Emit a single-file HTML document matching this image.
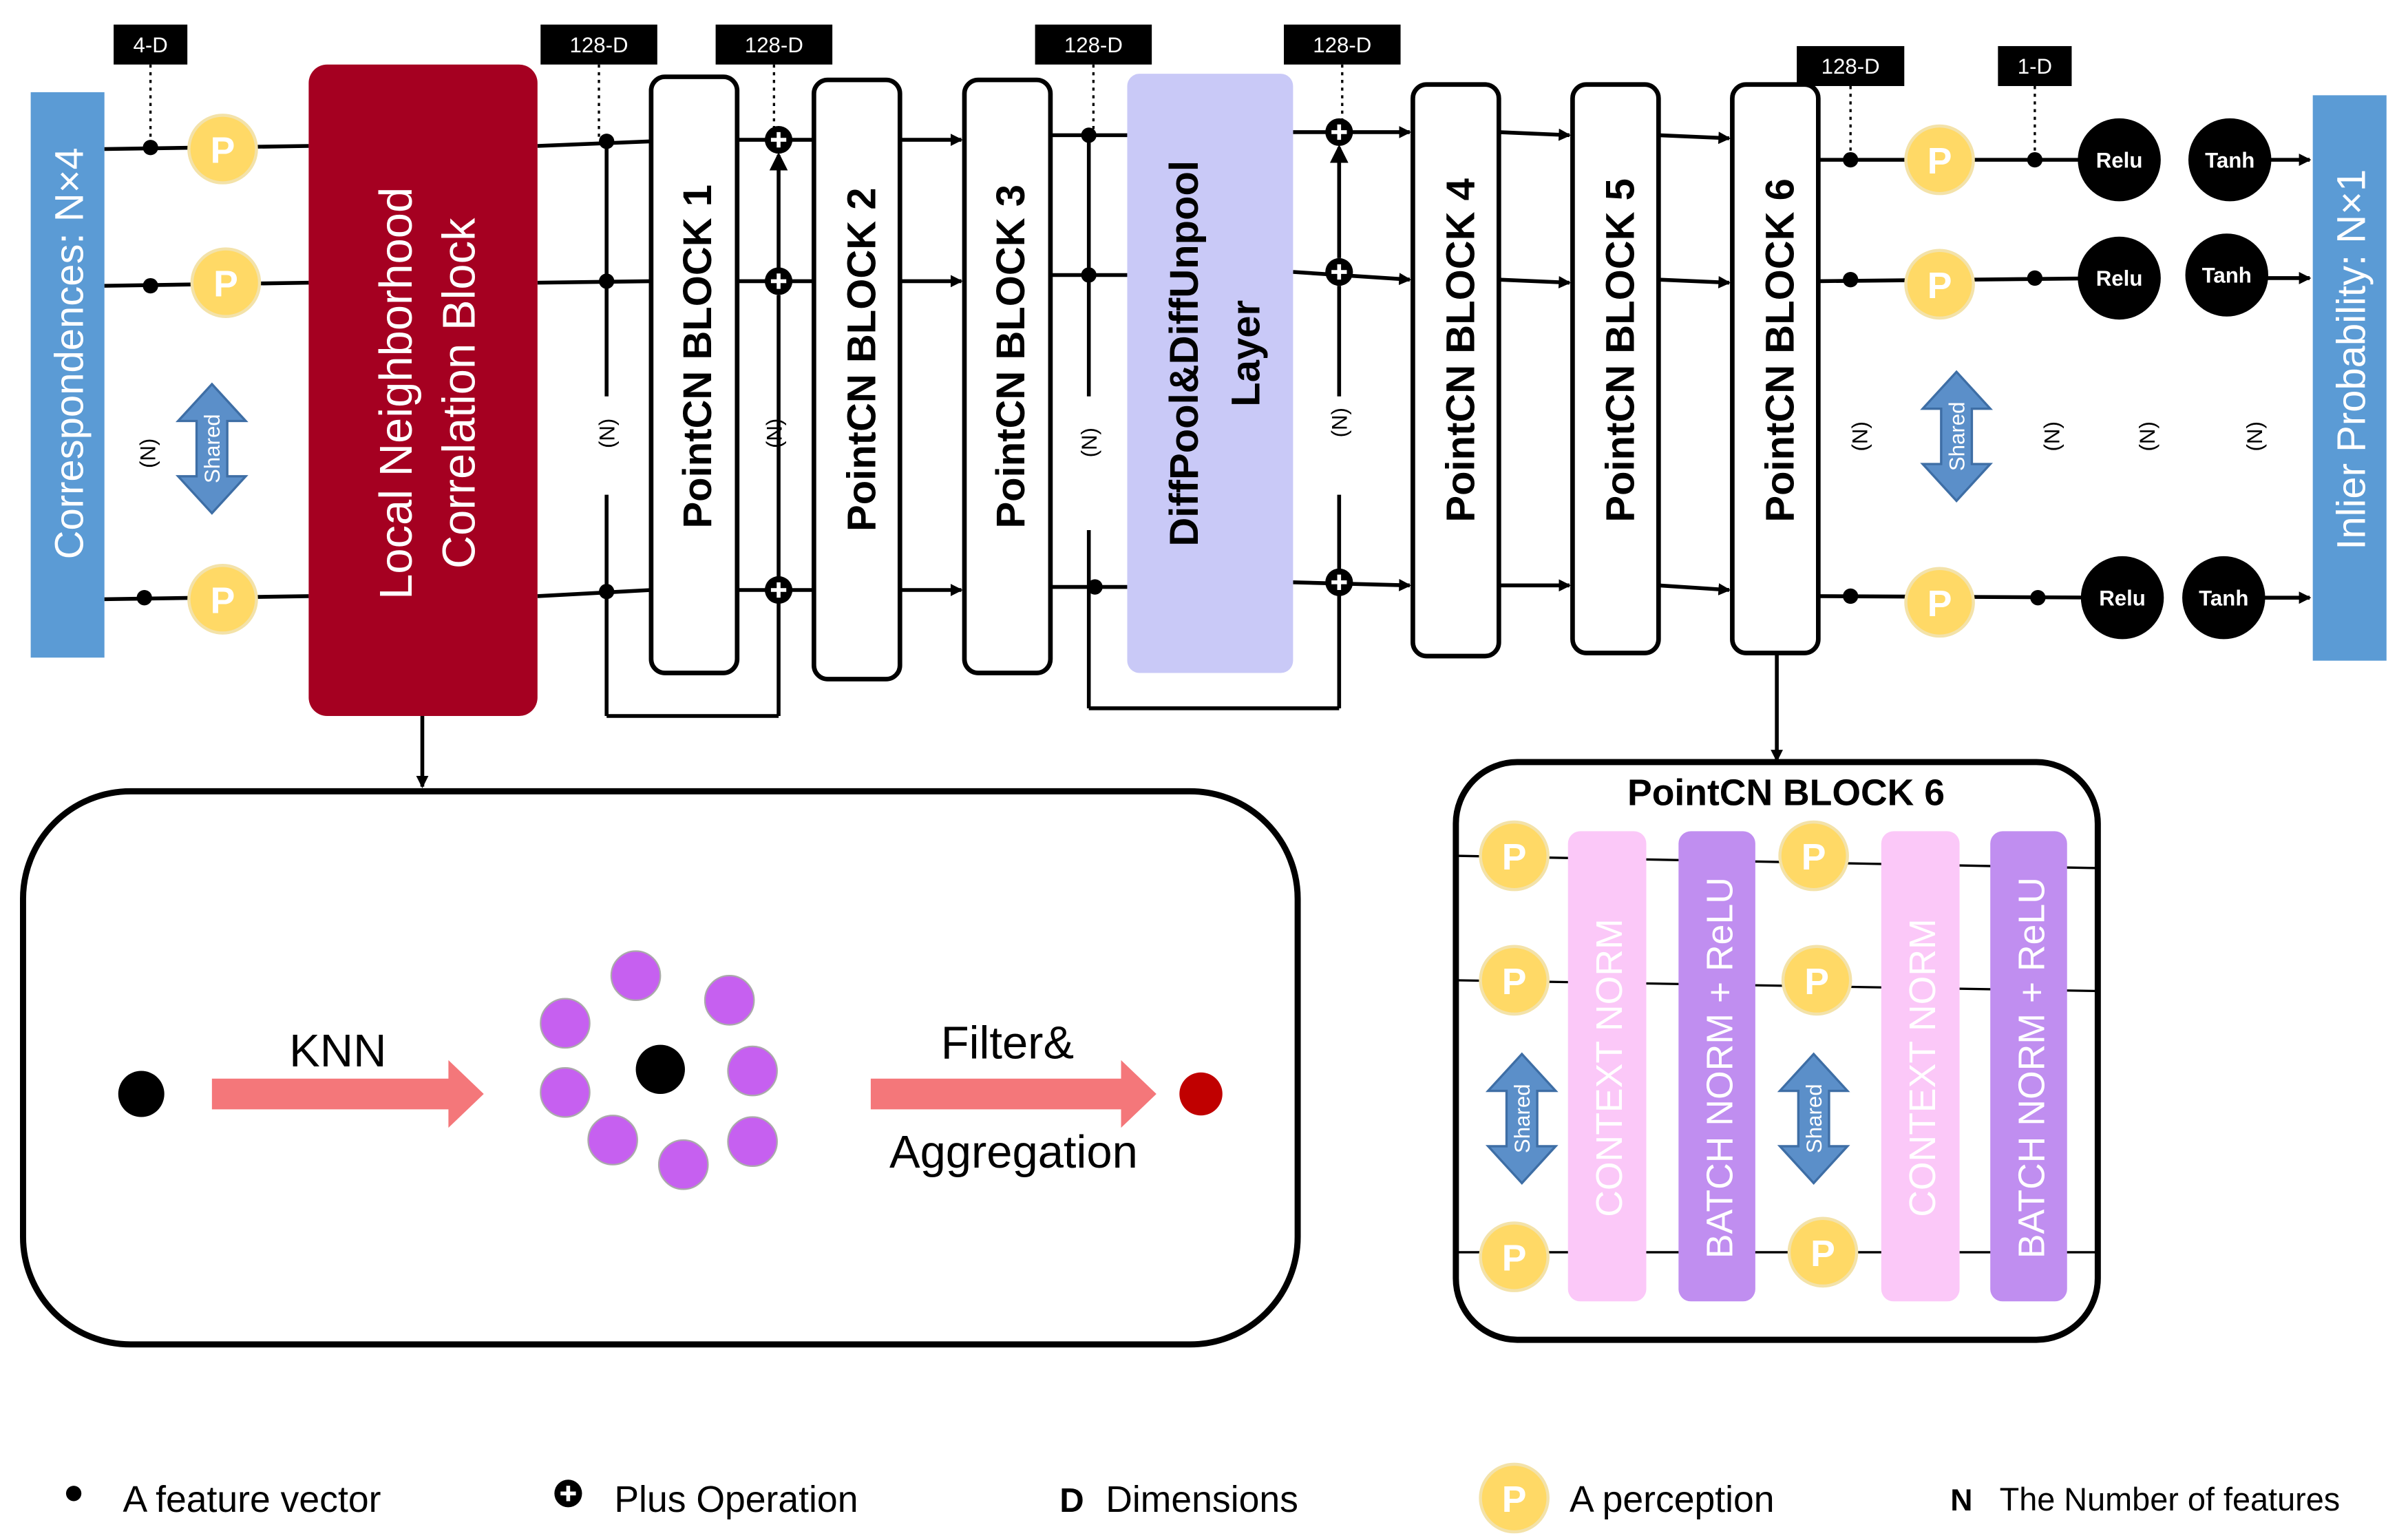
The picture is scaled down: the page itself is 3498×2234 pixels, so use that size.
<!DOCTYPE html>
<html><head><meta charset="utf-8"><style>
html,body{margin:0;padding:0;background:#fff;}
svg{display:block;}
text{font-family:"Liberation Sans","DejaVu Sans",sans-serif;}
</style></head><body>
<svg width="3498" height="2234" viewBox="0 0 1568 1001" preserveAspectRatio="none" xmlns="http://www.w3.org/2000/svg">
<defs>
<marker id="ar" markerWidth="8" markerHeight="8" refX="7" refY="4" orient="auto" markerUnits="userSpaceOnUse"><path d="M0,0 L8,4 L0,8 z" fill="#000"/></marker>
<marker id="ar2" markerWidth="12" markerHeight="12" refX="10" refY="6" orient="auto" markerUnits="userSpaceOnUse"><path d="M0,0 L12,6 L0,12 z" fill="#000"/></marker>
<g id="P"><circle r="22" fill="#ffd966" stroke="#f3e2a9" stroke-width="2"/><text y="9" text-anchor="middle" font-size="24" font-weight="bold" fill="#fff">P</text></g>
<g id="plus"><circle r="9" fill="#000"/><path d="M-5,0H5M0,-5V5" stroke="#fff" stroke-width="2.5"/></g>
<g id="shared"><path d="M0,-42 L22,-18 L10,-18 L10,18 L22,18 L0,42 L-22,18 L-10,18 L-10,-18 L-22,-18 z" fill="#5b8fc9" stroke="#3e6ea5" stroke-width="1.5"/><text transform="rotate(-90)" y="5" text-anchor="middle" font-size="14" fill="#fff">Shared</text></g>
</defs>
<rect width="1568" height="1001" fill="#fff"/>

<rect x="20" y="60" width="48" height="368" fill="#5b9bd5"/>
<text transform="translate(54,230) rotate(-90)" text-anchor="middle" font-size="26" fill="#fff">Correspondences: N×4</text>
<rect x="1506" y="62" width="48" height="368" fill="#5b9bd5"/>
<text transform="translate(1540,234) rotate(-90)" text-anchor="middle" font-size="26" fill="#fff">Inlier Probability: N×1</text>

<g font-size="14" fill="#fff" text-anchor="middle">
<rect x="74" y="16" width="48" height="26" fill="#000"/><text x="98" y="34">4-D</text>
<rect x="352" y="16" width="76" height="26" fill="#000"/><text x="390" y="34">128-D</text>
<rect x="466" y="16" width="76" height="26" fill="#000"/><text x="504" y="34">128-D</text>
<rect x="674" y="16" width="76" height="26" fill="#000"/><text x="712" y="34">128-D</text>
<rect x="836" y="16" width="76" height="26" fill="#000"/><text x="874" y="34">128-D</text>
<rect x="1170" y="30" width="70" height="26" fill="#000"/><text x="1205" y="48">128-D</text>
<rect x="1301" y="30" width="48" height="26" fill="#000"/><text x="1325" y="48">1-D</text>
</g>
<g stroke="#000" stroke-width="1.5" stroke-dasharray="2,3">
<line x1="98" y1="42" x2="98" y2="95"/><line x1="390" y1="42" x2="390" y2="90"/><line x1="504" y1="42" x2="504" y2="88"/>
<line x1="712" y1="42" x2="712" y2="86"/><line x1="874" y1="42" x2="874" y2="82"/><line x1="1205" y1="56" x2="1205" y2="102"/><line x1="1325" y1="56" x2="1325" y2="102"/>
</g>

<g stroke="#000" stroke-width="2.5" fill="none">
<line x1="68" y1="97" x2="201" y2="95"/><line x1="68" y1="186" x2="201" y2="184"/><line x1="68" y1="390" x2="201" y2="388"/>
<line x1="350" y1="95" x2="424" y2="92"/><line x1="350" y1="184" x2="424" y2="183"/><line x1="350" y1="388" x2="424" y2="384"/>
<line x1="480" y1="91" x2="530" y2="91"/><line x1="480" y1="183" x2="530" y2="183"/><line x1="480" y1="384" x2="530" y2="384"/>
<line x1="395" y1="90" x2="395" y2="258"/><line x1="395" y1="322" x2="395" y2="466"/><line x1="395" y1="466" x2="507" y2="466"/><line x1="507" y1="466" x2="507" y2="192"/>
<line x1="507" y1="175" x2="507" y2="101" marker-end="url(#ar2)"/>
<line x1="586" y1="91" x2="626" y2="91" marker-end="url(#ar)"/><line x1="586" y1="183" x2="626" y2="183" marker-end="url(#ar)"/><line x1="586" y1="384" x2="626" y2="384" marker-end="url(#ar)"/>
<line x1="684" y1="88" x2="734" y2="88"/><line x1="684" y1="179" x2="734" y2="179"/><line x1="684" y1="382" x2="734" y2="382"/>
<line x1="709" y1="86" x2="709" y2="258"/><line x1="709" y1="345" x2="709" y2="461"/><line x1="709" y1="461" x2="872" y2="461"/><line x1="872" y1="461" x2="872" y2="322"/><line x1="872" y1="258" x2="872" y2="186"/>
<line x1="872" y1="168" x2="872" y2="96" marker-end="url(#ar2)"/>
<line x1="842" y1="86" x2="918" y2="86" marker-end="url(#ar)"/><line x1="842" y1="177" x2="918" y2="182" marker-end="url(#ar)"/><line x1="842" y1="379" x2="918" y2="381" marker-end="url(#ar)"/>
<line x1="976" y1="86" x2="1022" y2="88" marker-end="url(#ar)"/><line x1="976" y1="182" x2="1022" y2="184" marker-end="url(#ar)"/><line x1="976" y1="381" x2="1022" y2="381" marker-end="url(#ar)"/>
<line x1="1080" y1="88" x2="1126" y2="90" marker-end="url(#ar)"/><line x1="1080" y1="182" x2="1126" y2="184" marker-end="url(#ar)"/><line x1="1080" y1="381" x2="1126" y2="384" marker-end="url(#ar)"/>
<line x1="1184" y1="104" x2="1380" y2="104"/><line x1="1184" y1="183" x2="1380" y2="181"/><line x1="1184" y1="388" x2="1380" y2="389"/>
<line x1="1452" y1="104" x2="1504" y2="104" marker-end="url(#ar)"/><line x1="1452" y1="181" x2="1504" y2="181" marker-end="url(#ar)"/><line x1="1448" y1="389" x2="1504" y2="389" marker-end="url(#ar)"/>
<line x1="1157" y1="424" x2="1157" y2="495" marker-end="url(#ar)"/><line x1="275" y1="466" x2="275" y2="512" marker-end="url(#ar)"/>
</g>
<g fill="#000">
<circle cx="98" cy="96" r="5"/><circle cx="98" cy="186" r="5"/><circle cx="94" cy="389" r="5"/>
<circle cx="395" cy="92" r="5"/><circle cx="395" cy="183" r="5"/><circle cx="395" cy="385" r="5"/>
<circle cx="709" cy="88" r="5"/><circle cx="709" cy="179" r="5"/><circle cx="713" cy="382" r="5"/>
<circle cx="1205" cy="104" r="5"/><circle cx="1325" cy="104" r="5"/><circle cx="1205" cy="182" r="5"/><circle cx="1325" cy="181" r="5"/><circle cx="1205" cy="388" r="5"/><circle cx="1327" cy="389" r="5"/>
</g>
<use href="#plus" x="507" y="91"/><use href="#plus" x="507" y="183"/><use href="#plus" x="507" y="384"/>
<use href="#plus" x="872" y="86"/><use href="#plus" x="872" y="177"/><use href="#plus" x="872" y="379"/>

<use href="#P" x="145" y="97"/><use href="#P" x="147" y="184"/><use href="#P" x="145" y="390"/>
<use href="#P" x="1263" y="104"/><use href="#P" x="1263" y="185"/><use href="#P" x="1263" y="392"/>
<use href="#shared" x="138" y="292"/><use href="#shared" x="1274" y="284"/>

<g font-size="14" fill="#000" text-anchor="middle">
<text transform="translate(101,295) rotate(-90)">(N)</text><text transform="translate(400,282) rotate(-90)">(N)</text><text transform="translate(509,282) rotate(-90)">(N)</text>
<text transform="translate(714,288) rotate(-90)">(N)</text><text transform="translate(877,275) rotate(-90)">(N)</text><text transform="translate(1216,284) rotate(-90)">(N)</text>
<text transform="translate(1341,284) rotate(-90)">(N)</text><text transform="translate(1403,284) rotate(-90)">(N)</text><text transform="translate(1473,284) rotate(-90)">(N)</text>
</g>

<rect x="201" y="42" width="149" height="424" rx="12" fill="#a50021"/>
<text transform="translate(268,256) rotate(-90)" text-anchor="middle" font-size="30" fill="#fff">Local  Neighborhood</text>
<text transform="translate(309,256) rotate(-90)" text-anchor="middle" font-size="30" fill="#fff">Correlation  Block</text>

<g fill="#fff" stroke="#000" stroke-width="3">
<rect x="424" y="50" width="56" height="388" rx="9"/><rect x="530" y="52" width="56" height="390" rx="9"/><rect x="628" y="52" width="56" height="386" rx="9"/>
<rect x="920" y="55" width="56" height="372" rx="9"/><rect x="1024" y="55" width="56" height="370" rx="9"/><rect x="1128" y="55" width="56" height="370" rx="9"/>
</g>
<rect x="734" y="48" width="108" height="390" rx="8" fill="#c9c9f7"/>
<g font-size="26" font-weight="bold" fill="#000" text-anchor="middle">
<text transform="translate(463,232) rotate(-90)">PointCN BLOCK 1</text>
<text transform="translate(570,234) rotate(-90)">PointCN BLOCK 2</text>
<text transform="translate(667,232) rotate(-90)">PointCN BLOCK 3</text>
<text transform="translate(780,230) rotate(-90)">DiffPool&amp;DiffUnpool</text>
<text transform="translate(820,230) rotate(-90)">Layer</text>
<text transform="translate(960,228) rotate(-90)">PointCN  BLOCK 4</text>
<text transform="translate(1064,228) rotate(-90)">PointCN BLOCK 5</text>
<text transform="translate(1168,228) rotate(-90)">PointCN BLOCK 6</text>
</g>

<g font-size="14" font-weight="bold" fill="#fff" text-anchor="middle">
<circle cx="1380" cy="104" r="27" fill="#000"/><text x="1380" y="109">Relu</text>
<circle cx="1452" cy="104" r="27" fill="#000"/><text x="1452" y="109">Tanh</text>
<circle cx="1380" cy="181" r="27" fill="#000"/><text x="1380" y="186">Relu</text>
<circle cx="1450" cy="179" r="27" fill="#000"/><text x="1450" y="184">Tanh</text>
<circle cx="1382" cy="389" r="27" fill="#000"/><text x="1382" y="394">Relu</text>
<circle cx="1448" cy="389" r="27" fill="#000"/><text x="1448" y="394">Tanh</text>
</g>

<rect x="15" y="515" width="830" height="360" rx="70" fill="#fff" stroke="#000" stroke-width="4"/>
<circle cx="92" cy="712" r="15" fill="#000"/>
<path d="M138,702 H292 V690 L315,712 L292,734 V722 H138 z" fill="#f4777a"/>
<text x="220" y="694" text-anchor="middle" font-size="30" fill="#000">KNN</text>
<g fill="#c660f0" stroke="#aaa" stroke-width="1">
<circle cx="414" cy="635" r="16"/><circle cx="475" cy="651" r="16"/><circle cx="368" cy="666" r="16"/><circle cx="490" cy="697" r="16"/>
<circle cx="368" cy="711" r="16"/><circle cx="490" cy="743" r="16"/><circle cx="399" cy="742" r="16"/><circle cx="445" cy="758" r="16"/>
</g>
<circle cx="430" cy="696" r="16" fill="#000"/>
<path d="M567,702 H730 V690 L753,712 L730,734 V722 H567 z" fill="#f4777a"/>
<text x="656" y="689" text-anchor="middle" font-size="30" fill="#000">Filter&amp;</text>
<text x="660" y="760" text-anchor="middle" font-size="30" fill="#000">Aggregation</text>
<circle cx="782" cy="712" r="14" fill="#c00000"/>

<rect x="948" y="496" width="418" height="376" rx="40" fill="#fff" stroke="#000" stroke-width="4"/>
<text x="1163" y="524" text-anchor="middle" font-size="24" font-weight="bold" fill="#000">PointCN BLOCK 6</text>
<g stroke="#000" stroke-width="1.5">
<line x1="948" y1="557" x2="1366" y2="565"/><line x1="948" y1="638" x2="1366" y2="645"/><line x1="948" y1="815" x2="1366" y2="815"/>
</g>
<rect x="1021" y="541" width="51" height="306" rx="8" fill="#fbc8f8"/>
<rect x="1093" y="541" width="50" height="306" rx="8" fill="#c08ef0"/>
<rect x="1225" y="541" width="51" height="306" rx="8" fill="#fbc8f8"/>
<rect x="1296" y="541" width="50" height="306" rx="8" fill="#c08ef0"/>
<g font-size="24" fill="#fff" text-anchor="middle">
<text transform="translate(1056,695) rotate(-90)">CONTEXT NORM</text>
<text transform="translate(1128,695) rotate(-90)">BATCH NORM + ReLU</text>
<text transform="translate(1260,695) rotate(-90)">CONTEXT NORM</text>
<text transform="translate(1331,695) rotate(-90)">BATCH NORM + ReLU</text>
</g>
<use href="#P" x="986" y="557"/><use href="#P" x="986" y="638"/><use href="#P" x="986" y="818"/>
<use href="#P" x="1181" y="557"/><use href="#P" x="1183" y="638"/><use href="#P" x="1187" y="815"/>
<use href="#shared" x="991" y="728"/><use href="#shared" x="1181" y="728"/>

<circle cx="48" cy="972" r="5" fill="#000"/>
<text x="80" y="984" font-size="24" fill="#000">A feature vector</text>
<use href="#plus" x="370" y="972"/>
<text x="400" y="984" font-size="24" fill="#000">Plus Operation</text>
<text x="690" y="984" font-size="22" font-weight="bold" fill="#000">D</text>
<text x="720" y="984" font-size="24" fill="#000">Dimensions</text>
<use href="#P" x="986" y="975"/>
<text x="1022" y="984" font-size="24" fill="#000">A perception</text>
<text x="1270" y="983" font-size="20" font-weight="bold" fill="#000">N</text>
<text x="1302" y="983" font-size="21" fill="#000">The Number of features</text>
</svg>
</body></html>
